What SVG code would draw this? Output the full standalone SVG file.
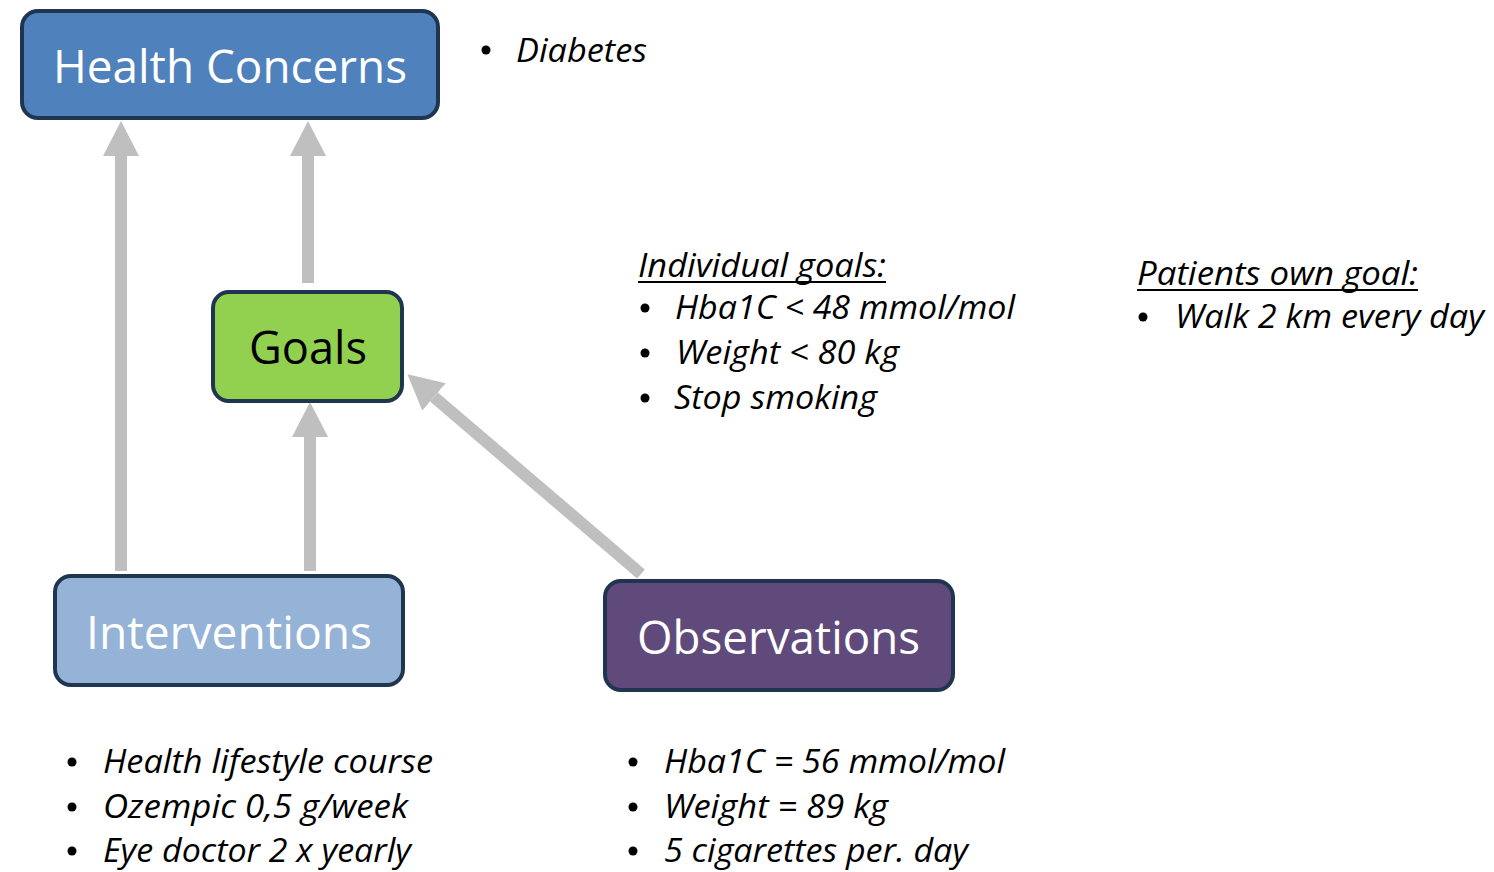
<svg xmlns="http://www.w3.org/2000/svg" width="1494" height="872" viewBox="0 0 1494 872">
<style>
.box{stroke:#1F3550;stroke-width:4}
.title{font-family:"Open Sans","Noto Sans",sans-serif;font-size:46px;text-anchor:start}
.lst{font-family:"Open Sans","Noto Sans",sans-serif;font-size:33px;font-style:italic;fill:#000}
.conn{stroke:#BFBFBF;stroke-width:12;fill:none}
.bul{fill:#000}
</style>
<defs>
<marker id="ah" markerUnits="userSpaceOnUse" markerWidth="36" markerHeight="36" viewBox="0 0 36 36" refX="0" refY="18" orient="auto">
<path d="M0,0 L35,18 L0,36 Z" fill="#BFBFBF"/>
</marker>
</defs>
<rect width="1494" height="872" fill="#fff"/>
<g id="connectors">
<line class="conn" x1="121" y1="571" x2="121" y2="156" marker-end="url(#ah)"/>
<line class="conn" x1="308" y1="283" x2="308" y2="156" marker-end="url(#ah)"/>
<line class="conn" x1="310" y1="571" x2="310" y2="437" marker-end="url(#ah)"/>
<line class="conn" x1="641" y1="574" x2="434" y2="397" marker-end="url(#ah)"/>
</g>
<g id="health-concerns">
<rect class="box" x="22" y="11" width="416" height="107" rx="16" fill="#4F81BD"/>
<text class="title" x="53" y="83" fill="#fff" textLength="354" lengthAdjust="spacingAndGlyphs">Health Concerns</text>
</g>
<g id="goals">
<rect class="box" x="213" y="292" width="189" height="109" rx="16" fill="#92D050"/>
<text class="title" x="249" y="364" fill="#000" textLength="118" lengthAdjust="spacingAndGlyphs">Goals</text>
</g>
<g id="interventions">
<rect class="box" x="55" y="576" width="348" height="109" rx="16" fill="#95B3D7"/>
<text class="title" x="86" y="649" fill="#fff" textLength="286" lengthAdjust="spacingAndGlyphs">Interventions</text>
</g>
<g id="observations">
<rect class="box" x="605" y="581" width="348" height="109" rx="16" fill="#604A7B"/>
<text class="title" x="637" y="654" fill="#fff" textLength="283" lengthAdjust="spacingAndGlyphs">Observations</text>
</g>
<g id="diabetes-note">
<circle class="bul" cx="486" cy="50" r="4.5"/>
<text class="lst" x="516" y="62" textLength="131" lengthAdjust="spacingAndGlyphs">Diabetes</text>
</g>
<g id="individual-goals">
<text class="lst" x="638" y="277" textLength="248" lengthAdjust="spacingAndGlyphs">Individual goals:</text>
<line x1="638" y1="282" x2="886" y2="282" stroke="#000" stroke-width="2"/>
<circle class="bul" cx="645" cy="308" r="4.5"/>
<text class="lst" x="675" y="319" textLength="340" lengthAdjust="spacingAndGlyphs">Hba1C &lt; 48 mmol/mol</text>
<circle class="bul" cx="645" cy="353" r="4.5"/>
<text class="lst" x="676" y="364" textLength="223" lengthAdjust="spacingAndGlyphs">Weight &lt; 80 kg</text>
<circle class="bul" cx="645" cy="398" r="4.5"/>
<text class="lst" x="674" y="409" textLength="203" lengthAdjust="spacingAndGlyphs">Stop smoking</text>
</g>
<g id="patients-goal">
<text class="lst" x="1137" y="285" textLength="281" lengthAdjust="spacingAndGlyphs">Patients own goal:</text>
<line x1="1137" y1="290" x2="1418" y2="290" stroke="#000" stroke-width="2"/>
<circle class="bul" cx="1143" cy="317" r="4.5"/>
<text class="lst" x="1175" y="328" textLength="309" lengthAdjust="spacingAndGlyphs">Walk 2 km every day</text>
</g>
<g id="interventions-list">
<circle class="bul" cx="72" cy="762" r="4.5"/>
<text class="lst" x="103" y="773" textLength="330" lengthAdjust="spacingAndGlyphs">Health lifestyle course</text>
<circle class="bul" cx="72" cy="807" r="4.5"/>
<text class="lst" x="103" y="818" textLength="305" lengthAdjust="spacingAndGlyphs">Ozempic 0,5 g/week</text>
<circle class="bul" cx="72" cy="851" r="4.5"/>
<text class="lst" x="103" y="862" textLength="308" lengthAdjust="spacingAndGlyphs">Eye doctor 2 x yearly</text>
</g>
<g id="observations-list">
<circle class="bul" cx="633" cy="762" r="4.5"/>
<text class="lst" x="664" y="773" textLength="341" lengthAdjust="spacingAndGlyphs">Hba1C = 56 mmol/mol</text>
<circle class="bul" cx="633" cy="807" r="4.5"/>
<text class="lst" x="664" y="818" textLength="224" lengthAdjust="spacingAndGlyphs">Weight = 89 kg</text>
<circle class="bul" cx="633" cy="851" r="4.5"/>
<text class="lst" x="664" y="862" textLength="304" lengthAdjust="spacingAndGlyphs">5 cigarettes per. day</text>
</g>
</svg>
